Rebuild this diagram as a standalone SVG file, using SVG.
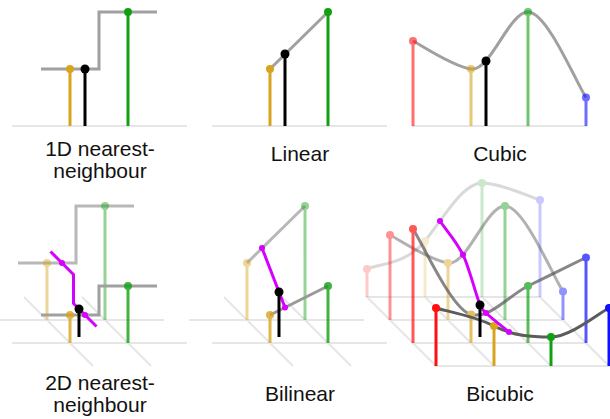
<svg xmlns="http://www.w3.org/2000/svg" width="610" height="419" viewBox="0 0 610 419">
<style>
text { font-family: "Liberation Sans", Arial, Helvetica, sans-serif; font-size: 21px; fill: #111; text-anchor: middle; }
.gnd { stroke: #e6e6e6; stroke-width: 2; fill: none; }
.cv { fill: none; stroke-width: 3; }
.st { stroke-width: 3; fill: none; }
.y { stroke: #d8a41e; } .yd { fill: #d8a41e; }
.g { stroke: #12a012; } .gd { fill: #12a012; }
.r { stroke: #ff1010; } .rd { fill: #ff1010; }
.b { stroke: #1010ff; } .bd { fill: #1010ff; }
.k { stroke: #000; } .kd { fill: #000; }
.m { stroke: #d600ff; fill: none; stroke-width: 3; } .md { fill: #d600ff; }
.gray { stroke: #a0a0a0; }
.dark { stroke: #555; }
</style>

<!-- Panel 1: 1D nearest-neighbour -->
<g id="p1-nearest1d">
  <line class="gnd" x1="12" y1="126" x2="187" y2="126"/>
  <path class="cv gray" d="M41,69 H99 V12 H157"/>
  <line class="st y" x1="70" y1="69" x2="70" y2="126"/><circle class="yd" cx="70" cy="69" r="4"/>
  <line class="st k" x1="85" y1="69" x2="85" y2="126"/><circle class="kd" cx="85" cy="69" r="4.5"/>
  <line class="st g" x1="128" y1="12" x2="128" y2="126"/><circle class="gd" cx="128" cy="12" r="4"/>
  <text x="100" y="156">1D nearest-</text>
  <text x="100" y="178">neighbour</text>
</g>

<!-- Panel 2: Linear -->
<g id="p2-linear">
  <line class="gnd" x1="212" y1="126" x2="387" y2="126"/>
  <line class="cv gray" x1="270" y1="69" x2="328" y2="12"/>
  <line class="st y" x1="270" y1="69" x2="270" y2="126"/><circle class="yd" cx="270" cy="69" r="4"/>
  <line class="st k" x1="285" y1="54" x2="285" y2="126"/><circle class="kd" cx="285" cy="54" r="4.5"/>
  <line class="st g" x1="328" y1="12" x2="328" y2="126"/><circle class="gd" cx="328" cy="12" r="4"/>
  <text x="300" y="161">Linear</text>
</g>

<!-- Panel 3: Cubic -->
<g id="p3-cubic">
  <line class="gnd" x1="412" y1="126" x2="587" y2="126"/>
  <path class="cv gray" d="M413,41 C422.6,45.7 451.8,66 471,69 C490.2,72 508.8,12 528,12 C547.2,12 576.4,83.25 586,97.5"/>
  <g opacity="0.6">
    <line class="st r" x1="413" y1="41" x2="413" y2="126"/><circle class="rd" cx="413" cy="41" r="4"/>
    <line class="st y" x1="471" y1="69" x2="471" y2="126"/><circle class="yd" cx="471" cy="69" r="4"/>
    <line class="st g" x1="528" y1="12" x2="528" y2="126"/><circle class="gd" cx="528" cy="12" r="4"/>
    <line class="st b" x1="586" y1="97.5" x2="586" y2="126"/><circle class="bd" cx="586" cy="97.5" r="4"/>
  </g>
  <line class="st k" x1="486" y1="61" x2="486" y2="126"/><circle class="kd" cx="486" cy="61" r="4.5"/>
  <text x="500" y="161">Cubic</text>
</g>

<!-- Panel 4: 2D nearest-neighbour -->
<g id="p4-nearest2d">
  <g id="p4-grid">
    <line class="gnd" x1="-11" y1="320" x2="164" y2="320"/>
    <line class="gnd" x1="12" y1="343" x2="187" y2="343"/>
    <line class="gnd" x1="24" y1="297" x2="93" y2="366"/>
    <line class="gnd" x1="82" y1="297" x2="151" y2="366"/>
  </g>
  <path class="cv" stroke="#b8b8b8" d="M18,263 H76 V206 H134"/>
  <g opacity="0.45">
    <line class="st y" x1="47" y1="263" x2="47" y2="320"/><circle class="yd" cx="47" cy="263" r="4"/>
    <line class="st g" x1="105" y1="206" x2="105" y2="320"/><circle class="gd" cx="105" cy="206" r="4"/>
  </g>
  <path class="cv gray" d="M41,315 H99 V286 H157"/>
  <path class="m" d="M50.5,251.5 L73.5,274.5 V303.5 L96.5,326.5"/>
  <circle class="md" cx="62" cy="263" r="3"/><circle class="md" cx="85" cy="315" r="3"/>
  <g opacity="0.8">
    <line class="st y" x1="70" y1="315" x2="70" y2="343"/><circle class="yd" cx="70" cy="315" r="4"/>
    <line class="st g" x1="128" y1="286" x2="128" y2="343"/><circle class="gd" cx="128" cy="286" r="4"/>
  </g>
  <line class="st k" x1="79" y1="309" x2="79" y2="337"/><circle class="kd" cx="79" cy="309" r="4.5"/>
  <text x="100" y="390">2D nearest-</text>
  <text x="100" y="412">neighbour</text>
</g>

<!-- Panel 5: Bilinear -->
<g id="p5-bilinear">
  <g id="p5-grid">
    <line class="gnd" x1="189" y1="320" x2="364" y2="320"/>
    <line class="gnd" x1="212" y1="343" x2="387" y2="343"/>
    <line class="gnd" x1="224" y1="297" x2="293" y2="366"/>
    <line class="gnd" x1="282" y1="297" x2="351" y2="366"/>
  </g>
  <line class="cv" stroke="#b8b8b8" x1="247" y1="263" x2="305" y2="206"/>
  <g opacity="0.45">
    <line class="st y" x1="247" y1="263" x2="247" y2="320"/><circle class="yd" cx="247" cy="263" r="4"/>
    <line class="st g" x1="305" y1="206" x2="305" y2="320"/><circle class="gd" cx="305" cy="206" r="4"/>
  </g>
  <line class="cv" stroke="#999" x1="270" y1="315" x2="328" y2="286"/>
  <line class="m" x1="262" y1="248" x2="285" y2="307.5"/>
  <circle class="md" cx="262" cy="248" r="3"/><circle class="md" cx="285" cy="307.5" r="3"/>
  <g opacity="0.8">
    <line class="st y" x1="270" y1="315" x2="270" y2="343"/><circle class="yd" cx="270" cy="315" r="4"/>
    <line class="st g" x1="328" y1="286" x2="328" y2="343"/><circle class="gd" cx="328" cy="286" r="4"/>
  </g>
  <line class="st k" x1="279" y1="292" x2="279" y2="337"/><circle class="kd" cx="279" cy="292" r="4.5"/>
  <text x="300" y="401">Bilinear</text>
</g>

<!-- Panel 6: Bicubic -->
<g id="p6-bicubic">
  <g id="p6-grid">
    <line class="gnd" x1="366" y1="297" x2="541" y2="297"/>
    <line class="gnd" x1="389" y1="320" x2="564" y2="320"/>
    <line class="gnd" x1="412" y1="343" x2="587" y2="343"/>
    <line class="gnd" x1="435" y1="366" x2="610" y2="366"/>
    <line class="gnd" x1="367" y1="297" x2="436" y2="366"/>
    <line class="gnd" x1="425" y1="297" x2="494" y2="366"/>
    <line class="gnd" x1="482" y1="297" x2="551" y2="366"/>
    <line class="gnd" x1="540" y1="297" x2="609" y2="366"/>
  </g>
  <g id="p6-row1" opacity="0.22">
    <path class="cv dark" d="M367,269 C376.6,264.3 405.8,264.8 425,241 C444.2,217.2 462.8,183 482,183 C501.2,183 530.4,197.2 540,200"/>
    <line class="st r" x1="367" y1="269" x2="367" y2="297"/><circle class="rd" cx="367" cy="269" r="4"/>
    <line class="st y" x1="425" y1="241" x2="425" y2="297"/><circle class="yd" cx="425" cy="241" r="4"/>
    <line class="st g" x1="482" y1="183" x2="482" y2="297"/><circle class="gd" cx="482" cy="183" r="4"/>
    <line class="st b" x1="540" y1="200" x2="540" y2="297"/><circle class="bd" cx="540" cy="200" r="4"/>
  </g>
  <g id="p6-row2" opacity="0.45">
    <path class="cv dark" d="M390,235 C399.6,239.7 428.8,260 448,263 C467.2,266 485.8,206 505,206 C524.2,206 553.4,277.25 563,291.5"/>
    <line class="st r" x1="390" y1="235" x2="390" y2="320"/><circle class="rd" cx="390" cy="235" r="4"/>
    <line class="st y" x1="448" y1="263" x2="448" y2="320"/><circle class="yd" cx="448" cy="263" r="4"/>
    <line class="st g" x1="505" y1="206" x2="505" y2="320"/><circle class="gd" cx="505" cy="206" r="4"/>
    <line class="st b" x1="563" y1="291.5" x2="563" y2="320"/><circle class="bd" cx="563" cy="291.5" r="4"/>
  </g>
  <g id="p6-row3" opacity="0.7">
    <path class="cv dark" d="M413,229 C422.6,243.25 451.8,309.9 471,314.5 C490.2,319.1 508.8,295.5 528,286 C547.2,276.5 576.4,262.25 586,257.5"/>
    <line class="st r" x1="413" y1="229" x2="413" y2="343"/><circle class="rd" cx="413" cy="229" r="4"/>
    <line class="st y" x1="471" y1="314.5" x2="471" y2="343"/><circle class="yd" cx="471" cy="314.5" r="4"/>
    <line class="st g" x1="528" y1="286" x2="528" y2="343"/><circle class="gd" cx="528" cy="286" r="4"/>
    <line class="st b" x1="586" y1="257.5" x2="586" y2="343"/><circle class="bd" cx="586" cy="257.5" r="4"/>
  </g>
  <g id="p6-row4">
    <path class="cv" stroke="#5c5c5c" d="M436,308 C445.6,311 474.8,316 494,326 C513.2,336 531.8,337 551,337 C570.2,337 599.4,312.8 609,308"/>
    <line class="st r" x1="436" y1="308" x2="436" y2="366"/><circle class="rd" cx="436" cy="308" r="4"/>
    <line class="st y" x1="494" y1="326" x2="494" y2="366"/><circle class="yd" cx="494" cy="326" r="4"/>
    <line class="st g" x1="551" y1="337" x2="551" y2="366"/><circle class="gd" cx="551" cy="337" r="4"/>
    <line class="st b" x1="609" y1="308" x2="609" y2="366"/><circle class="bd" cx="609" cy="308" r="4"/>
  </g>
  <g id="p6-interp">
    <path class="m" d="M440,221 C446,230 455.5,240 463,254.7 C469,267.3 476,295 480,305 C482,310 483,310 486,313 C493,319.5 503,327 509,332"/>
    <circle class="md" cx="440" cy="221" r="3"/>
    <circle class="md" cx="463" cy="254.7" r="3"/>
    <circle class="md" cx="486" cy="313" r="3"/>
    <circle class="md" cx="509" cy="332" r="3"/>
    <line class="st k" x1="480" y1="305" x2="480" y2="337"/><circle class="kd" cx="480" cy="305" r="4.5"/>
  </g>
  <text x="500" y="401">Bicubic</text>
</g>
</svg>
